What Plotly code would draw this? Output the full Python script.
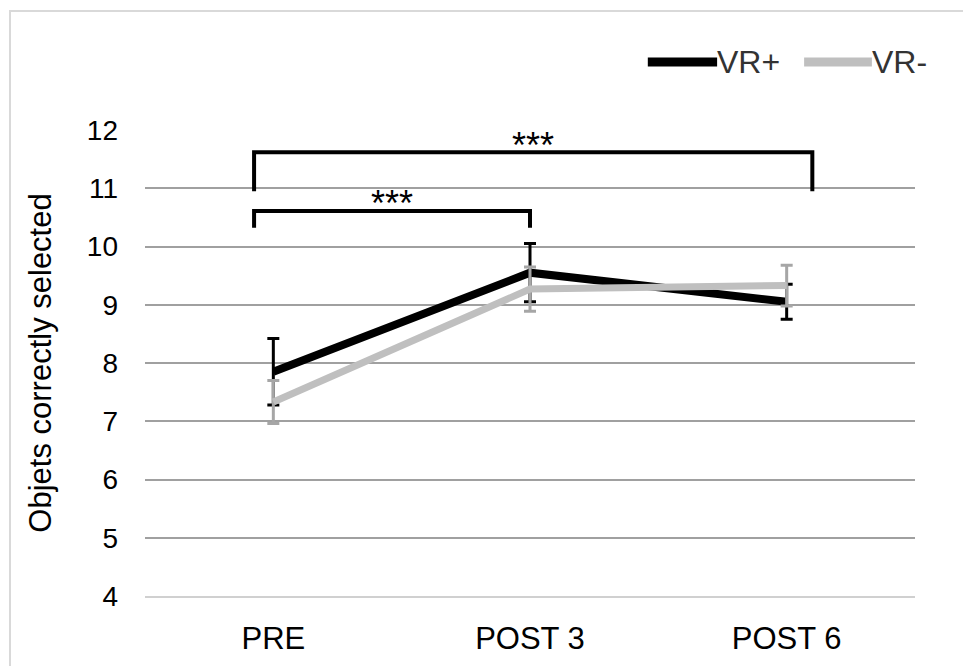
import plotly.graph_objects as go

categories = ["PRE", "POST 3", "POST 6"]
series_names = ["VR+", "VR-"]
vr_plus = [7.85, 9.55, 9.05]
vr_plus_err = [0.57, 0.50, 0.30]
vr_minus = [7.33, 9.27, 9.33]
vr_minus_err = [0.37, 0.38, 0.35]
y_ticks = [4, 5, 6, 7, 8, 9, 10, 11, 12]

# significance brackets: (x_start, x_end, y_top, y_leg_left, y_leg_right, label)
brackets = [
    (-0.075, 1.0, 10.61, 10.32, 10.32, "***"),
    (-0.075, 2.1, 11.62, 10.95, 10.95, "***"),
]

FONT = "Liberation Sans, Arial, sans-serif"
BLACK = "#000000"
GRAY = "#bfbfbf"
xs = list(range(len(categories)))

fig = go.Figure()
fig.add_trace(go.Scatter(
    x=xs, y=vr_plus, name=series_names[0], mode="lines", showlegend=False,
    line=dict(color=BLACK, width=8),
    error_y=dict(type="data", array=vr_plus_err, color=BLACK, thickness=3, width=6),
))
fig.add_trace(go.Scatter(
    x=xs, y=vr_minus, name=series_names[1], mode="lines", showlegend=False,
    line=dict(color=GRAY, width=7),
    error_y=dict(type="data", array=vr_minus_err, color="#a6a6a6", thickness=3, width=6),
))

shapes = []
annotations = []
for x0, x1, yt, yl, yr, lab in brackets:
    shapes.append(dict(
        type="path", xref="x", yref="y",
        path=f"M {x0} {yl} L {x0} {yt} L {x1} {yt} L {x1} {yr}",
        line=dict(color=BLACK, width=4),
    ))
    annotations.append(dict(
        x=(x0 + x1) / 2, y=yt, xref="x", yref="y", text=lab, showarrow=False,
        yanchor="middle", yshift=7, font=dict(size=36, color=BLACK, family=FONT),
    ))

# legend drawn as line samples + labels (paper coords)
legend_items = [
    (series_names[0], BLACK, 0.653, 0.743),
    (series_names[1], GRAY, 0.856, 0.944),
]
for name, col, lx0, lx1 in legend_items:
    shapes.append(dict(
        type="line", xref="paper", yref="paper", x0=lx0, x1=lx1, y0=1.146, y1=1.146,
        line=dict(color=col, width=9),
    ))
    annotations.append(dict(
        x=lx1, y=1.146, xref="paper", yref="paper", text=name, showarrow=False,
        xanchor="left", yanchor="middle", xshift=-2,
        font=dict(size=32, color="#333333", family=FONT),
    ))

# outer chart border (light gray)
shapes.append(dict(
    type="rect", xref="paper", yref="paper",
    x0=-0.1753, x1=1.12, y0=-0.25, y1=1.2554,
    line=dict(color="#d9d9d9", width=2), fillcolor="rgba(0,0,0,0)", layer="below",
))

fig.update_layout(
    width=971, height=666,
    margin=dict(l=137, r=64, t=122, b=78),
    paper_bgcolor="white", plot_bgcolor="white",
    font=dict(family=FONT, color=BLACK),
    showlegend=False,
    xaxis=dict(
        range=[-0.5, 2.5], tickmode="array", tickvals=xs, ticktext=categories,
        showgrid=False, zeroline=False, showline=True, linecolor="#d0d0d0", linewidth=2,
        ticks="", tickfont=dict(size=31, color=BLACK), ticklabelstandoff=14,
    ),
    yaxis=dict(
        range=[4, 12], tickmode="array", tickvals=y_ticks,
        showgrid=True, gridcolor="#a0a0a0", gridwidth=1.5, zeroline=False,
        showline=False, ticks="", tickfont=dict(size=28, color=BLACK),
        ticklabelstandoff=26,
        title=dict(text="Objets correctly selected", font=dict(size=31, color=BLACK), standoff=25),
    ),
    shapes=shapes, annotations=annotations,
)

fig.write_html("out.html")
